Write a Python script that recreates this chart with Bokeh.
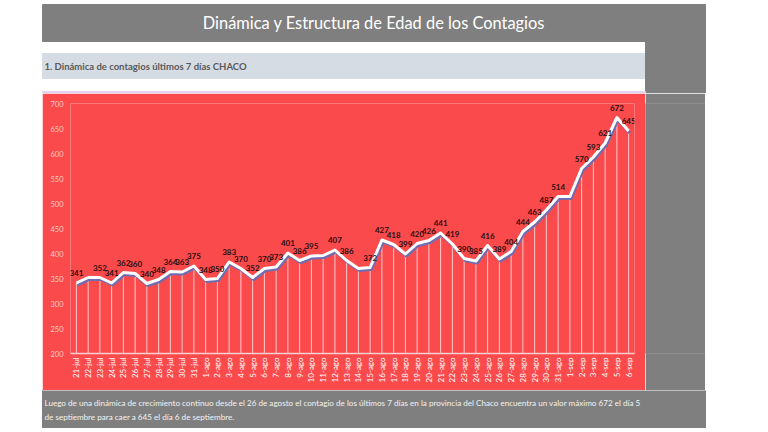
import math
from bokeh.plotting import figure
from bokeh.models import FactorRange, Range1d, FixedTicker, ColumnDataSource
from bokeh.layouts import row, column
from bokeh.transform import dodge
from bokeh.core.properties import value
from bokeh.embed import file_html
from bokeh.resources import INLINE

# ---------------- data ----------------
dates = ["21-jul", "22-jul", "23-jul", "24-jul", "25-jul", "26-jul", "27-jul", "28-jul",
         "29-jul", "30-jul", "31-jul",
         "1-ago", "2-ago", "3-ago", "4-ago", "5-ago", "6-ago", "7-ago", "8-ago", "9-ago",
         "10-ago", "11-ago", "12-ago", "13-ago", "14-ago", "15-ago", "16-ago", "17-ago",
         "18-ago", "19-ago", "20-ago", "21-ago", "22-ago", "23-ago", "24-ago", "25-ago",
         "26-ago", "27-ago", "28-ago", "29-ago", "30-ago", "31-ago",
         "1-sep", "2-sep", "3-sep", "4-sep", "5-sep", "6-sep"]
cases = [341, 352, 352, 341, 362, 360, 340, 348, 364, 363, 375,
         348, 350, 383, 370, 352, 370, 373, 401, 386, 395, 396, 407, 386, 370, 372,
         427, 418, 399, 420, 426, 441, 419, 390, 385, 416, 389, 404, 444, 463, 487, 514,
         514, 570, 593, 621, 672, 645]
unlabeled = ["22-jul", "11-ago", "14-ago", "1-sep"]
y_ticks = [200, 250, 300, 350, 400, 450, 500, 550, 600, 650, 700]

title_text = "Dinámica y Estructura de Edad de los Contagios"
subtitle_text = "1. Dinámica de contagios últimos 7 días CHACO"
note_lines = ["Luego de una dinámica de crecimiento continuo desde el 26 de agosto el contagio de los últimos 7 días en la provincia del Chaco encuentra un valor máximo 672 el día 5",
              "de septiembre para caer a 645 el día 6 de septiembre."]

# ---------------- styles ----------------
RED = "#FB4A4C"
GRAY = "#7F7F7F"
STRIP = "#D6DCE4"
FONT = value("Lato")


def deco(w, h, bg="white"):
    f = figure(width=w, height=h, x_range=Range1d(0, w), y_range=Range1d(h, 0),
               output_backend="svg", toolbar_location=None, min_border=0,
               background_fill_color=bg, border_fill_color=bg, outline_line_color=None)
    f.axis.visible = False
    f.grid.visible = False
    return f


# top decoration (page y 0..93)
top = deco(760, 93)
top.quad(left=[42], right=[705], top=[4], bottom=[41], color=GRAY)
top.quad(left=[42], right=[645], top=[53], bottom=[78], color=STRIP)
top.quad(left=[645], right=[705], top=[41], bottom=[94], color=GRAY)
top.quad(left=[42], right=[645], top=[91], bottom=[93], color="#E3D3EC")
top.text(x=[373.5], y=[22], text=[title_text], text_color="white", text_font=FONT,
         text_font_size="16.4px", text_align="center", text_baseline="middle")
top.text(x=[44], y=[65.5], text=[subtitle_text], text_color="#595959", text_font=FONT,
         text_font_style="bold", text_font_size="9.5px", text_align="left", text_baseline="middle")

# chart (page x 42..645, y 93..390)
labels = ["" if d in unlabeled else str(v) for d, v in zip(dates, cases)]
src = ColumnDataSource(dict(d=dates, v=cases, lab=labels, base=[y_ticks[0]] * len(dates)))

p = figure(x_range=FactorRange(factors=dates), y_range=Range1d(y_ticks[0], y_ticks[-1]),
           width=603, height=297, output_backend="svg", toolbar_location=None,
           min_border_left=28, min_border_right=11, min_border_top=10, min_border_bottom=37,
           background_fill_color=RED, border_fill_color=RED, outline_line_color=None)
p.grid.visible = False
p.segment(x0="d", y0="base", x1="d", y1="v", source=src, line_color="#FFD8D8",
          line_width=1, line_alpha=0.9)
p.line(x=dodge("d", 0.1, range=p.x_range), y=dodge("v", -4, range=p.y_range), source=src,
       line_color="#6F6CB2", line_width=3, line_join="round")
p.line(x="d", y="v", source=src, line_color="white", line_width=3, line_join="round")
p.text(x="d", y="v", text="lab", source=src, text_color="#2B0F0F", text_font=FONT,
       text_font_style="bold", text_font_size="8px", text_align="center",
       text_baseline="middle", y_offset=-10)

p.yaxis.ticker = FixedTicker(ticks=y_ticks)
p.yaxis.axis_line_color = None
p.yaxis.major_tick_line_color = None
p.yaxis.minor_tick_line_color = None
p.yaxis.major_tick_out = 0
p.yaxis.major_label_standoff = 7
p.yaxis.major_label_text_color = "#F9CACA"
p.yaxis.major_label_text_font = "Lato"
p.yaxis.major_label_text_font_size = "7.5px"

p.xaxis.axis_line_color = "#F9D0D0"
p.xaxis.axis_line_width = 1.5
p.xaxis.major_tick_line_color = None
p.xaxis.major_tick_out = 0
p.xaxis.major_label_orientation = math.pi / 2
p.xaxis.major_label_standoff = 4
p.xaxis.major_label_text_color = "white"
p.xaxis.major_label_text_font = "Lato"
p.xaxis.major_label_text_font_size = "8px"

left_w = deco(42, 297)
left_w.quad(left=[0], right=[42], top=[0], bottom=[297], color="white")
right_g = deco(60, 297, GRAY)
right_g.quad(left=[-1], right=[61], top=[-1], bottom=[298], color=GRAY)
right_w = deco(55, 297)
right_w.quad(left=[0], right=[55], top=[0], bottom=[297], color="white")

# bottom decoration (page y 390..428)
bot = deco(760, 38)
bot.quad(left=[42], right=[705], top=[-1], bottom=[38], color=GRAY)
bot.text(x=[44, 44], y=[12, 26], text=note_lines, text_color="#F2F2F2", text_font=FONT,
         text_font_size="8.1px", text_align="left", text_baseline="middle")

layout = column(top, row(left_w, p, right_g, right_w, spacing=0), bot, spacing=0)

open("out.html", "w").write(file_html(layout, INLINE))
